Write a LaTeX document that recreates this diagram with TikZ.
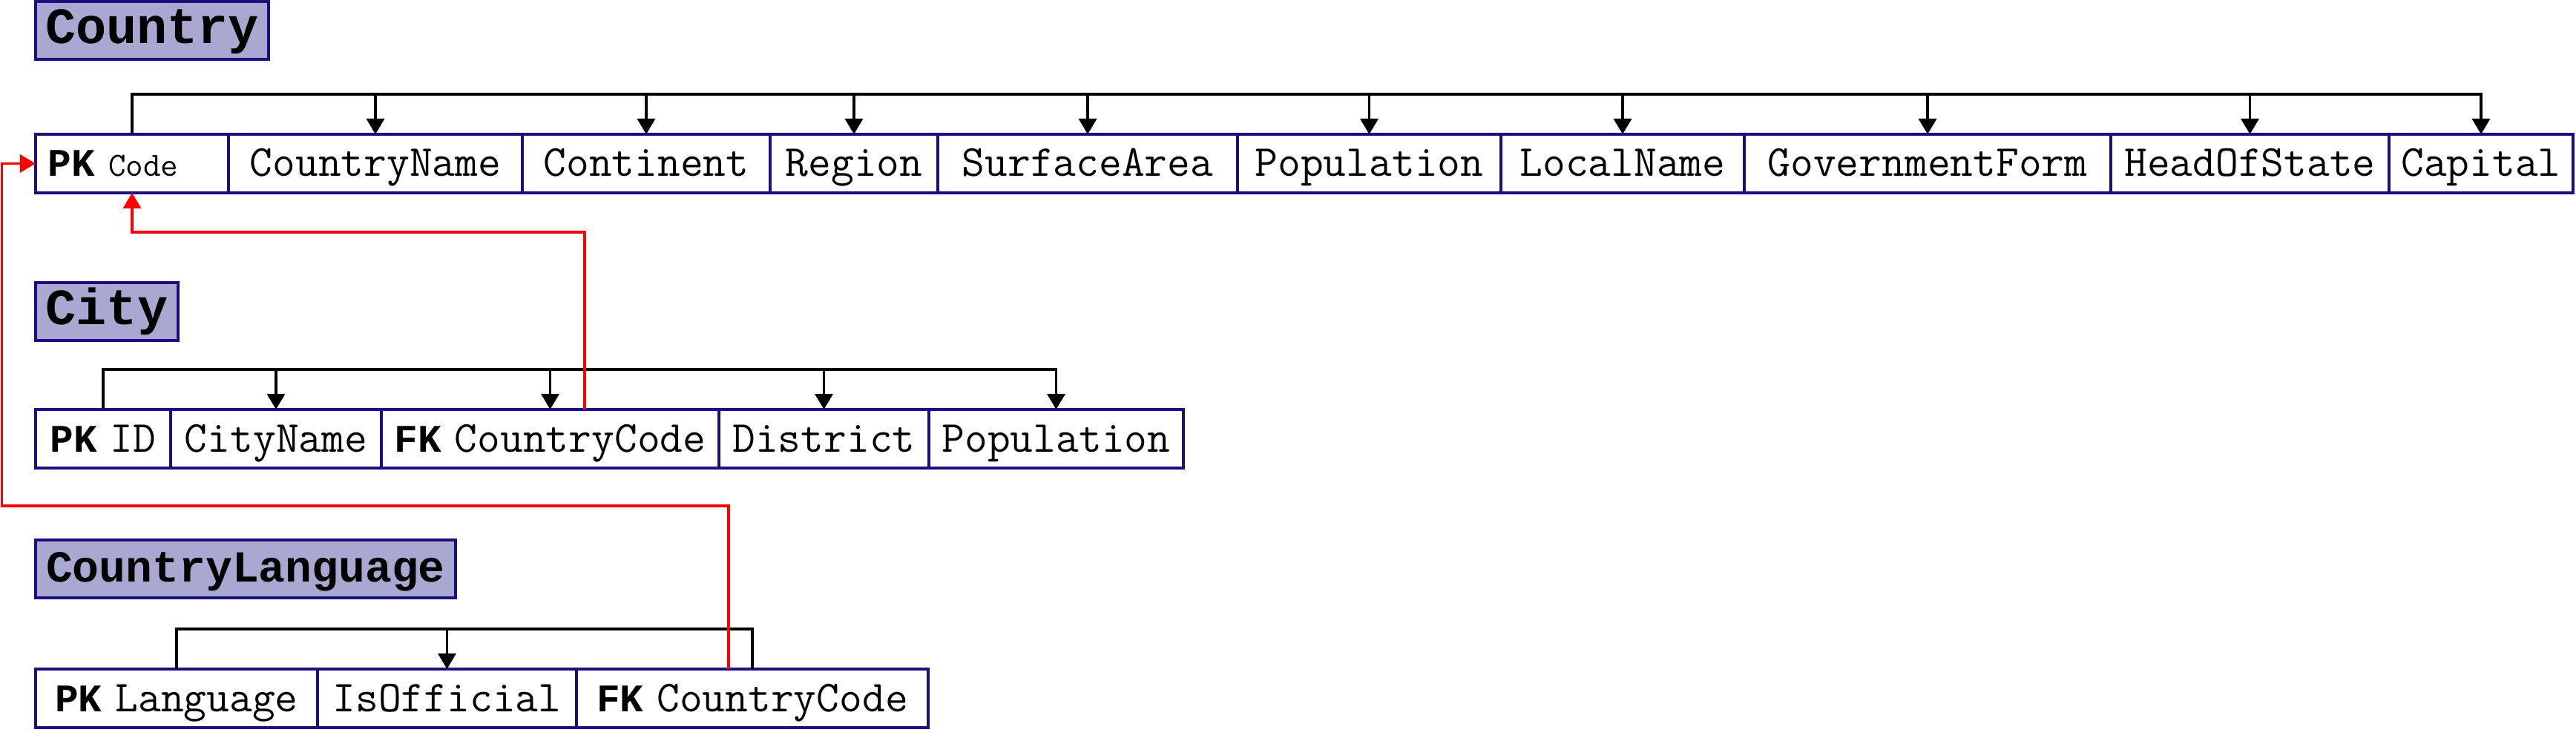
\documentclass[tikz,border=0pt]{standalone}
\usepackage{fontspec}
\setmonofont{Liberation Mono}
\usetikzlibrary{positioning,arrows.meta}
\definecolor{keyblue}{RGB}{28,14,128}
\definecolor{headfill}{RGB}{168,168,208}
\newcommand{\keytag}[1]{{\ttfamily\bfseries\fontsize{15}{18}\selectfont #1}\hspace{0.3em}}

\begin{document}
\begin{tikzpicture}[
  cell/.style={draw=keyblue, line width=1pt, fill=white, outer sep=0pt, inner sep=0pt,
    minimum height=0.79cm, text height=0.42cm, text depth=0.07cm,
    font=\fontfamily{lmtt}\fontsize{17}{20}\selectfont},
  tablehead/.style={cell, fill=headfill, minimum height=0.78cm,
    font=\ttfamily\bfseries\fontsize{19.5}{22}\selectfont},
  busline/.style={line width=1pt},
  fdep/.style={line width=1pt, -{Triangle[width=0.24cm,length=0.21cm]}},
  fkline/.style={red, line width=1pt, -{Triangle[width=0.24cm,length=0.21cm]}}
]
\useasboundingbox (0,0) rectangle (34.72,9.98);

% Country
\node[tablehead, minimum width=3.14cm, anchor=north west] (tcountry) at (0.48,9.96) {Country};
\node[cell, minimum width=2.60cm, text width=2.26cm, align=left, anchor=north west] (code) at (0.48,8.17)
  {\keytag{PK}{\fontsize{13}{15}\selectfont Code}};
\node[cell, minimum width=3.96cm, right=0pt of code] (cname) {CountryName};
\node[cell, minimum width=3.34cm, right=0pt of cname] (continent) {Continent};
\node[cell, minimum width=2.26cm, right=0pt of continent] (region) {Region};
\node[cell, minimum width=4.04cm, right=0pt of region] (surface) {SurfaceArea};
\node[cell, minimum width=3.55cm, right=0pt of surface] (cpop) {Population};
\node[cell, minimum width=3.28cm, right=0pt of cpop] (localname) {LocalName};
\node[cell, minimum width=4.94cm, right=0pt of localname] (govform) {GovernmentForm};
\node[cell, minimum width=3.75cm, right=0pt of govform] (headstate) {HeadOfState};
\node[cell, minimum width=2.48cm, right=0pt of headstate] (capital) {Capital};

\coordinate[above=0.54cm of code.north] (cbus);
\draw[fdep] (code.north) -- (cbus) -| (capital.north);
\foreach \f in {cname,continent,region,surface,cpop,localname,govform,headstate}
  \draw[fdep] (\f.north |- cbus) -- (\f.north);

% City
\node[tablehead, minimum width=1.92cm, anchor=north west] (tcity) at (0.48,6.17) {City};
\node[cell, minimum width=1.82cm, anchor=north west] (cid) at (0.48,4.46) {\keytag{PK}ID};
\node[cell, minimum width=2.84cm, right=0pt of cid] (cityname) {CityName};
\node[cell, minimum width=4.55cm, right=0pt of cityname] (citycc) {\keytag{FK}CountryCode};
\node[cell, minimum width=2.83cm, right=0pt of citycc] (district) {District};
\node[cell, minimum width=3.43cm, right=0pt of district] (citypop) {Population};

\coordinate[above=0.54cm of cid.north] (citybus);
\draw[fdep] (cid.north) -- (citybus) -| (citypop.north);
\foreach \f in {cityname,citycc,district}
  \draw[fdep] (\f.north |- citybus) -- (\f.north);

% CountryLanguage
\node[tablehead, minimum width=5.66cm, anchor=north west,
  font=\ttfamily\bfseries\fontsize{17}{20}\selectfont] (tcl) at (0.48,2.70) {CountryLanguage};
\node[cell, minimum width=3.80cm, anchor=north west] (lang) at (0.48,0.96) {\keytag{PK}Language};
\node[cell, minimum width=3.49cm, right=0pt of lang] (isoff) {IsOfficial};
\node[cell, minimum width=4.74cm, right=0pt of isoff] (clcc) {\keytag{FK}CountryCode};

\coordinate[above=0.54cm of lang.north] (clbus);
\draw[busline] (lang.north) -- (clbus) -| (clcc.north);
\draw[fdep] (isoff.north |- clbus) -- (isoff.north);

% foreign keys
\coordinate[below=0.53cm of code.south] (redA);
\coordinate (redB) at (0.025,3.16);
\draw[fkline] ([xshift=0.465cm]citycc.north) |- (redA) -- (code.south);
\draw[fkline] ([xshift=-0.32cm]clcc.north) |- (redB) |- (code.west);
\end{tikzpicture}
\end{document}
